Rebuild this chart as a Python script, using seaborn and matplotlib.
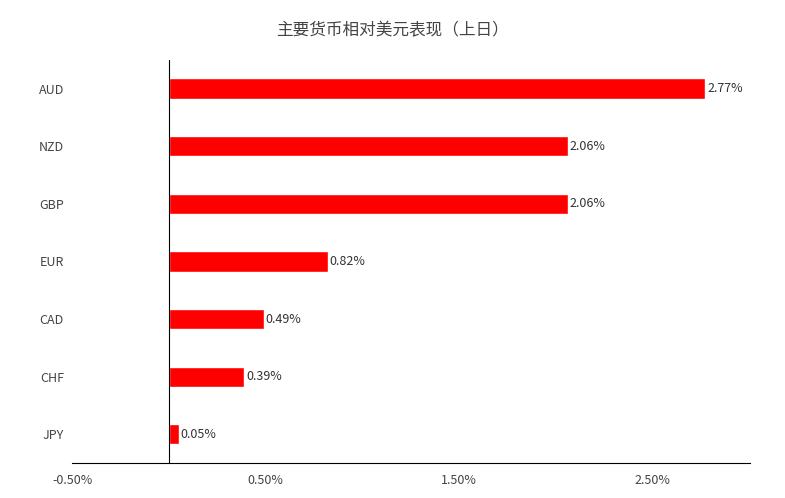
import matplotlib
matplotlib.use("Agg")
import matplotlib.pyplot as plt
import seaborn as sns
import pandas as pd

currencies = ["AUD", "NZD", "GBP", "EUR", "CAD", "CHF", "JPY"]
changes = [2.77, 2.06, 2.06, 0.82, 0.49, 0.39, 0.05]
tick_values = [-0.5, 0.5, 1.5, 2.5]
tick_labels = ["-0.50%", "0.50%", "1.50%", "2.50%"]

sns.set_style("white")
plt.rcParams["font.family"] = ["Noto Sans CJK SC", "DejaVu Sans"]

df = pd.DataFrame({"currency": currencies, "change": changes})

fig = plt.figure(figsize=(7.85, 4.98), dpi=100)
ax = fig.add_axes([0.092, 0.07, 0.863, 0.81])

sns.barplot(data=df, x="change", y="currency", color="#FF0000",
            width=0.35, ax=ax, saturation=1)

for i, v in enumerate(changes):
    ax.text(v + 0.01, i, f"{v:.2f}%", va="center", ha="left",
            fontsize=9, color="#333333")

ax.set_xlim(-0.5, 3.0)
ax.set_ylim(6.5, -0.5)
ax.set_xticks(tick_values)
ax.set_xticklabels(tick_labels, fontsize=9, color="#444444")
ax.tick_params(axis="y", labelsize=9, colors="#444444", length=0, pad=6)
ax.tick_params(axis="x", length=0, pad=8)
ax.set_xlabel("")
ax.set_ylabel("")
ax.axvline(0, color="black", linewidth=0.8)
for side in ["top", "right", "left"]:
    ax.spines[side].set_visible(False)
ax.spines["bottom"].set_color("black")
ax.spines["bottom"].set_linewidth(0.8)

fig.suptitle("主要货币相对美元表现（上日）", y=0.955, fontsize=12, color="#444444")

fig.savefig("out.png", dpi=100)
